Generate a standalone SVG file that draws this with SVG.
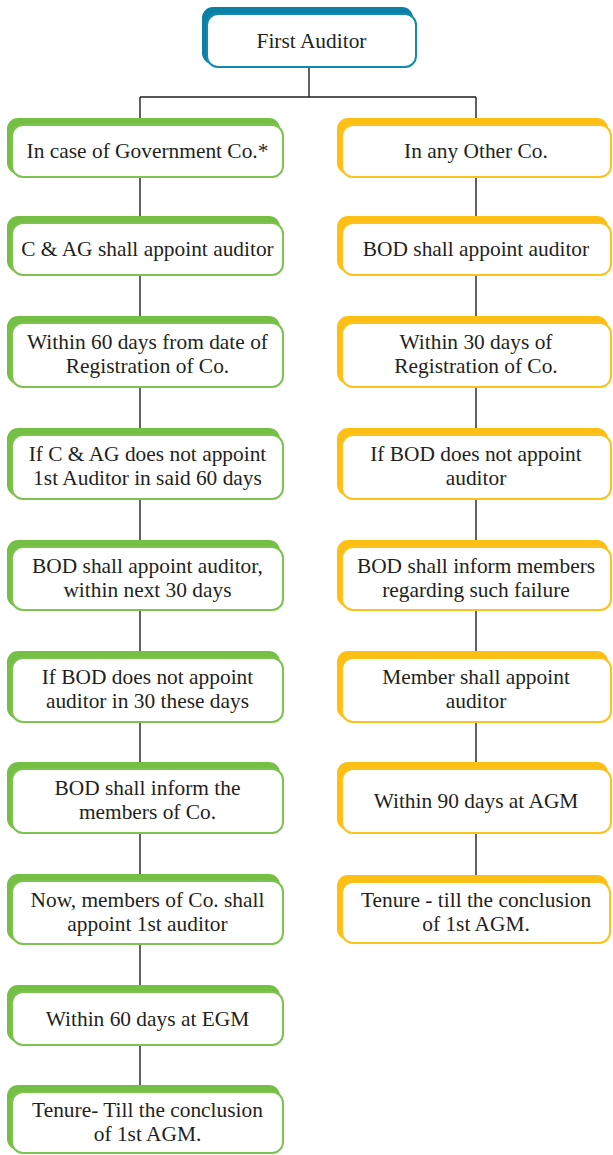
<svg xmlns="http://www.w3.org/2000/svg" width="613" height="1155" viewBox="0 0 613 1155">
  <style>
    .bg { fill: #ffffff; }
    .wire { stroke: #231f20; stroke-width: 1.4; fill: none; }
    .tab-teal { fill: #0b7fa4; }
    .tab-green { fill: #74bf44; }
    .tab-gold { fill: #fdbf14; }
    .card { fill: #ffffff; stroke-width: 2; }
    .card-teal { stroke: #1589ad; }
    .card-green { stroke: #7cc34f; }
    .card-gold { stroke: #fdc21e; }
    text { font-family: "Liberation Serif", "Times New Roman", serif; font-size: 21.4px; fill: #231f20; text-anchor: middle; }
  </style>

  <rect class="bg" x="0" y="0" width="613" height="1155"/>

  <!-- connectors -->
  <g id="connectors">
    <path class="wire" d="M309 67 V97 M140 97 H476 M140 97 V118 M476 97 V118"/>
    <!-- government company branch -->
    <path class="wire" d="M140 177 V216 M140 275 V316 M140 387 V428 M140 499 V540 M140 610 V651 M140 722 V762 M140 833 V874 M140 944 V985 M140 1045 V1085"/>
    <!-- other company branch -->
    <path class="wire" d="M476 177 V216 M476 275 V316 M476 387 V428 M476 499 V540 M476 610 V651 M476 722 V762 M476 833 V875"/>
  </g>

  <!-- root -->
  <g id="first-auditor">
    <rect class="tab-teal" x="202" y="7" width="211" height="57" rx="11"/>
    <rect class="card card-teal" x="207" y="14" width="209" height="53" rx="11"/>
    <text x="311.5" y="48">First Auditor</text>
  </g>

  <!-- left column: government company -->
  <g id="gov-1">
    <rect class="tab-green" x="7" y="118" width="273" height="56" rx="11"/>
    <rect class="card card-green" x="12" y="125" width="271" height="52" rx="11"/>
    <text x="147.5" y="158">In case of Government Co.*</text>
  </g>
  <g id="gov-2">
    <rect class="tab-green" x="7" y="216" width="273" height="56" rx="11"/>
    <rect class="card card-green" x="12" y="223" width="271" height="52" rx="11"/>
    <text x="147.5" y="256">C &amp; AG shall appoint auditor</text>
  </g>
  <g id="gov-3">
    <rect class="tab-green" x="7" y="316" width="273" height="68" rx="11"/>
    <rect class="card card-green" x="12" y="323" width="271" height="64" rx="11"/>
    <text x="147.5" y="349">Within 60 days from date of</text>
    <text x="147.5" y="373">Registration of Co.</text>
  </g>
  <g id="gov-4">
    <rect class="tab-green" x="7" y="428" width="273" height="68" rx="11"/>
    <rect class="card card-green" x="12" y="435" width="271" height="64" rx="11"/>
    <text x="147.5" y="461">If C &amp; AG does not appoint</text>
    <text x="147.5" y="485">1st Auditor in said 60 days</text>
  </g>
  <g id="gov-5">
    <rect class="tab-green" x="7" y="540" width="273" height="67" rx="11"/>
    <rect class="card card-green" x="12" y="547" width="271" height="63" rx="11"/>
    <text x="147.5" y="572.5">BOD shall appoint auditor,</text>
    <text x="147.5" y="596.5">within next 30 days</text>
  </g>
  <g id="gov-6">
    <rect class="tab-green" x="7" y="651" width="273" height="68" rx="11"/>
    <rect class="card card-green" x="12" y="658" width="271" height="64" rx="11"/>
    <text x="147.5" y="684">If BOD does not appoint</text>
    <text x="147.5" y="708">auditor in 30 these days</text>
  </g>
  <g id="gov-7">
    <rect class="tab-green" x="7" y="762" width="273" height="68" rx="11"/>
    <rect class="card card-green" x="12" y="769" width="271" height="64" rx="11"/>
    <text x="147.5" y="795">BOD shall inform the</text>
    <text x="147.5" y="819">members of Co.</text>
  </g>
  <g id="gov-8">
    <rect class="tab-green" x="7" y="874" width="273" height="67" rx="11"/>
    <rect class="card card-green" x="12" y="881" width="271" height="63" rx="11"/>
    <text x="147.5" y="906.5">Now, members of Co. shall</text>
    <text x="147.5" y="930.5">appoint 1st auditor</text>
  </g>
  <g id="gov-9">
    <rect class="tab-green" x="7" y="985" width="273" height="57" rx="11"/>
    <rect class="card card-green" x="12" y="992" width="271" height="53" rx="11"/>
    <text x="147.5" y="1026">Within 60 days at EGM</text>
  </g>
  <g id="gov-10">
    <rect class="tab-green" x="7" y="1085" width="273" height="65" rx="11"/>
    <rect class="card card-green" x="12" y="1092" width="271" height="61" rx="11"/>
    <text x="147.5" y="1117">Tenure- Till the conclusion</text>
    <text x="147.5" y="1141">of 1st AGM.</text>
  </g>

  <!-- right column: any other company -->
  <g id="other-1">
    <rect class="tab-gold" x="337" y="118" width="271" height="56" rx="11"/>
    <rect class="card card-gold" x="342" y="125" width="269" height="52" rx="11"/>
    <text x="476" y="158">In any Other Co.</text>
  </g>
  <g id="other-2">
    <rect class="tab-gold" x="337" y="216" width="271" height="56" rx="11"/>
    <rect class="card card-gold" x="342" y="223" width="269" height="52" rx="11"/>
    <text x="476" y="256">BOD shall appoint auditor</text>
  </g>
  <g id="other-3">
    <rect class="tab-gold" x="337" y="316" width="271" height="68" rx="11"/>
    <rect class="card card-gold" x="342" y="323" width="269" height="64" rx="11"/>
    <text x="476" y="349">Within 30 days of</text>
    <text x="476" y="373">Registration of Co.</text>
  </g>
  <g id="other-4">
    <rect class="tab-gold" x="337" y="428" width="271" height="68" rx="11"/>
    <rect class="card card-gold" x="342" y="435" width="269" height="64" rx="11"/>
    <text x="476" y="461">If BOD does not appoint</text>
    <text x="476" y="485">auditor</text>
  </g>
  <g id="other-5">
    <rect class="tab-gold" x="337" y="540" width="271" height="67" rx="11"/>
    <rect class="card card-gold" x="342" y="547" width="269" height="63" rx="11"/>
    <text x="476" y="572.5">BOD shall inform members</text>
    <text x="476" y="596.5">regarding such failure</text>
  </g>
  <g id="other-6">
    <rect class="tab-gold" x="337" y="651" width="271" height="68" rx="11"/>
    <rect class="card card-gold" x="342" y="658" width="269" height="64" rx="11"/>
    <text x="476" y="684">Member shall appoint</text>
    <text x="476" y="708">auditor</text>
  </g>
  <g id="other-7">
    <rect class="tab-gold" x="337" y="762" width="271" height="68" rx="11"/>
    <rect class="card card-gold" x="342" y="769" width="269" height="64" rx="11"/>
    <text x="476" y="808">Within 90 days at AGM</text>
  </g>
  <g id="other-8">
    <rect class="tab-gold" x="337" y="875" width="271" height="65" rx="11"/>
    <rect class="card card-gold" x="342" y="882" width="268" height="61" rx="11"/>
    <text x="476" y="907">Tenure - till the conclusion</text>
    <text x="476" y="931">of 1st AGM.</text>
  </g>
</svg>
